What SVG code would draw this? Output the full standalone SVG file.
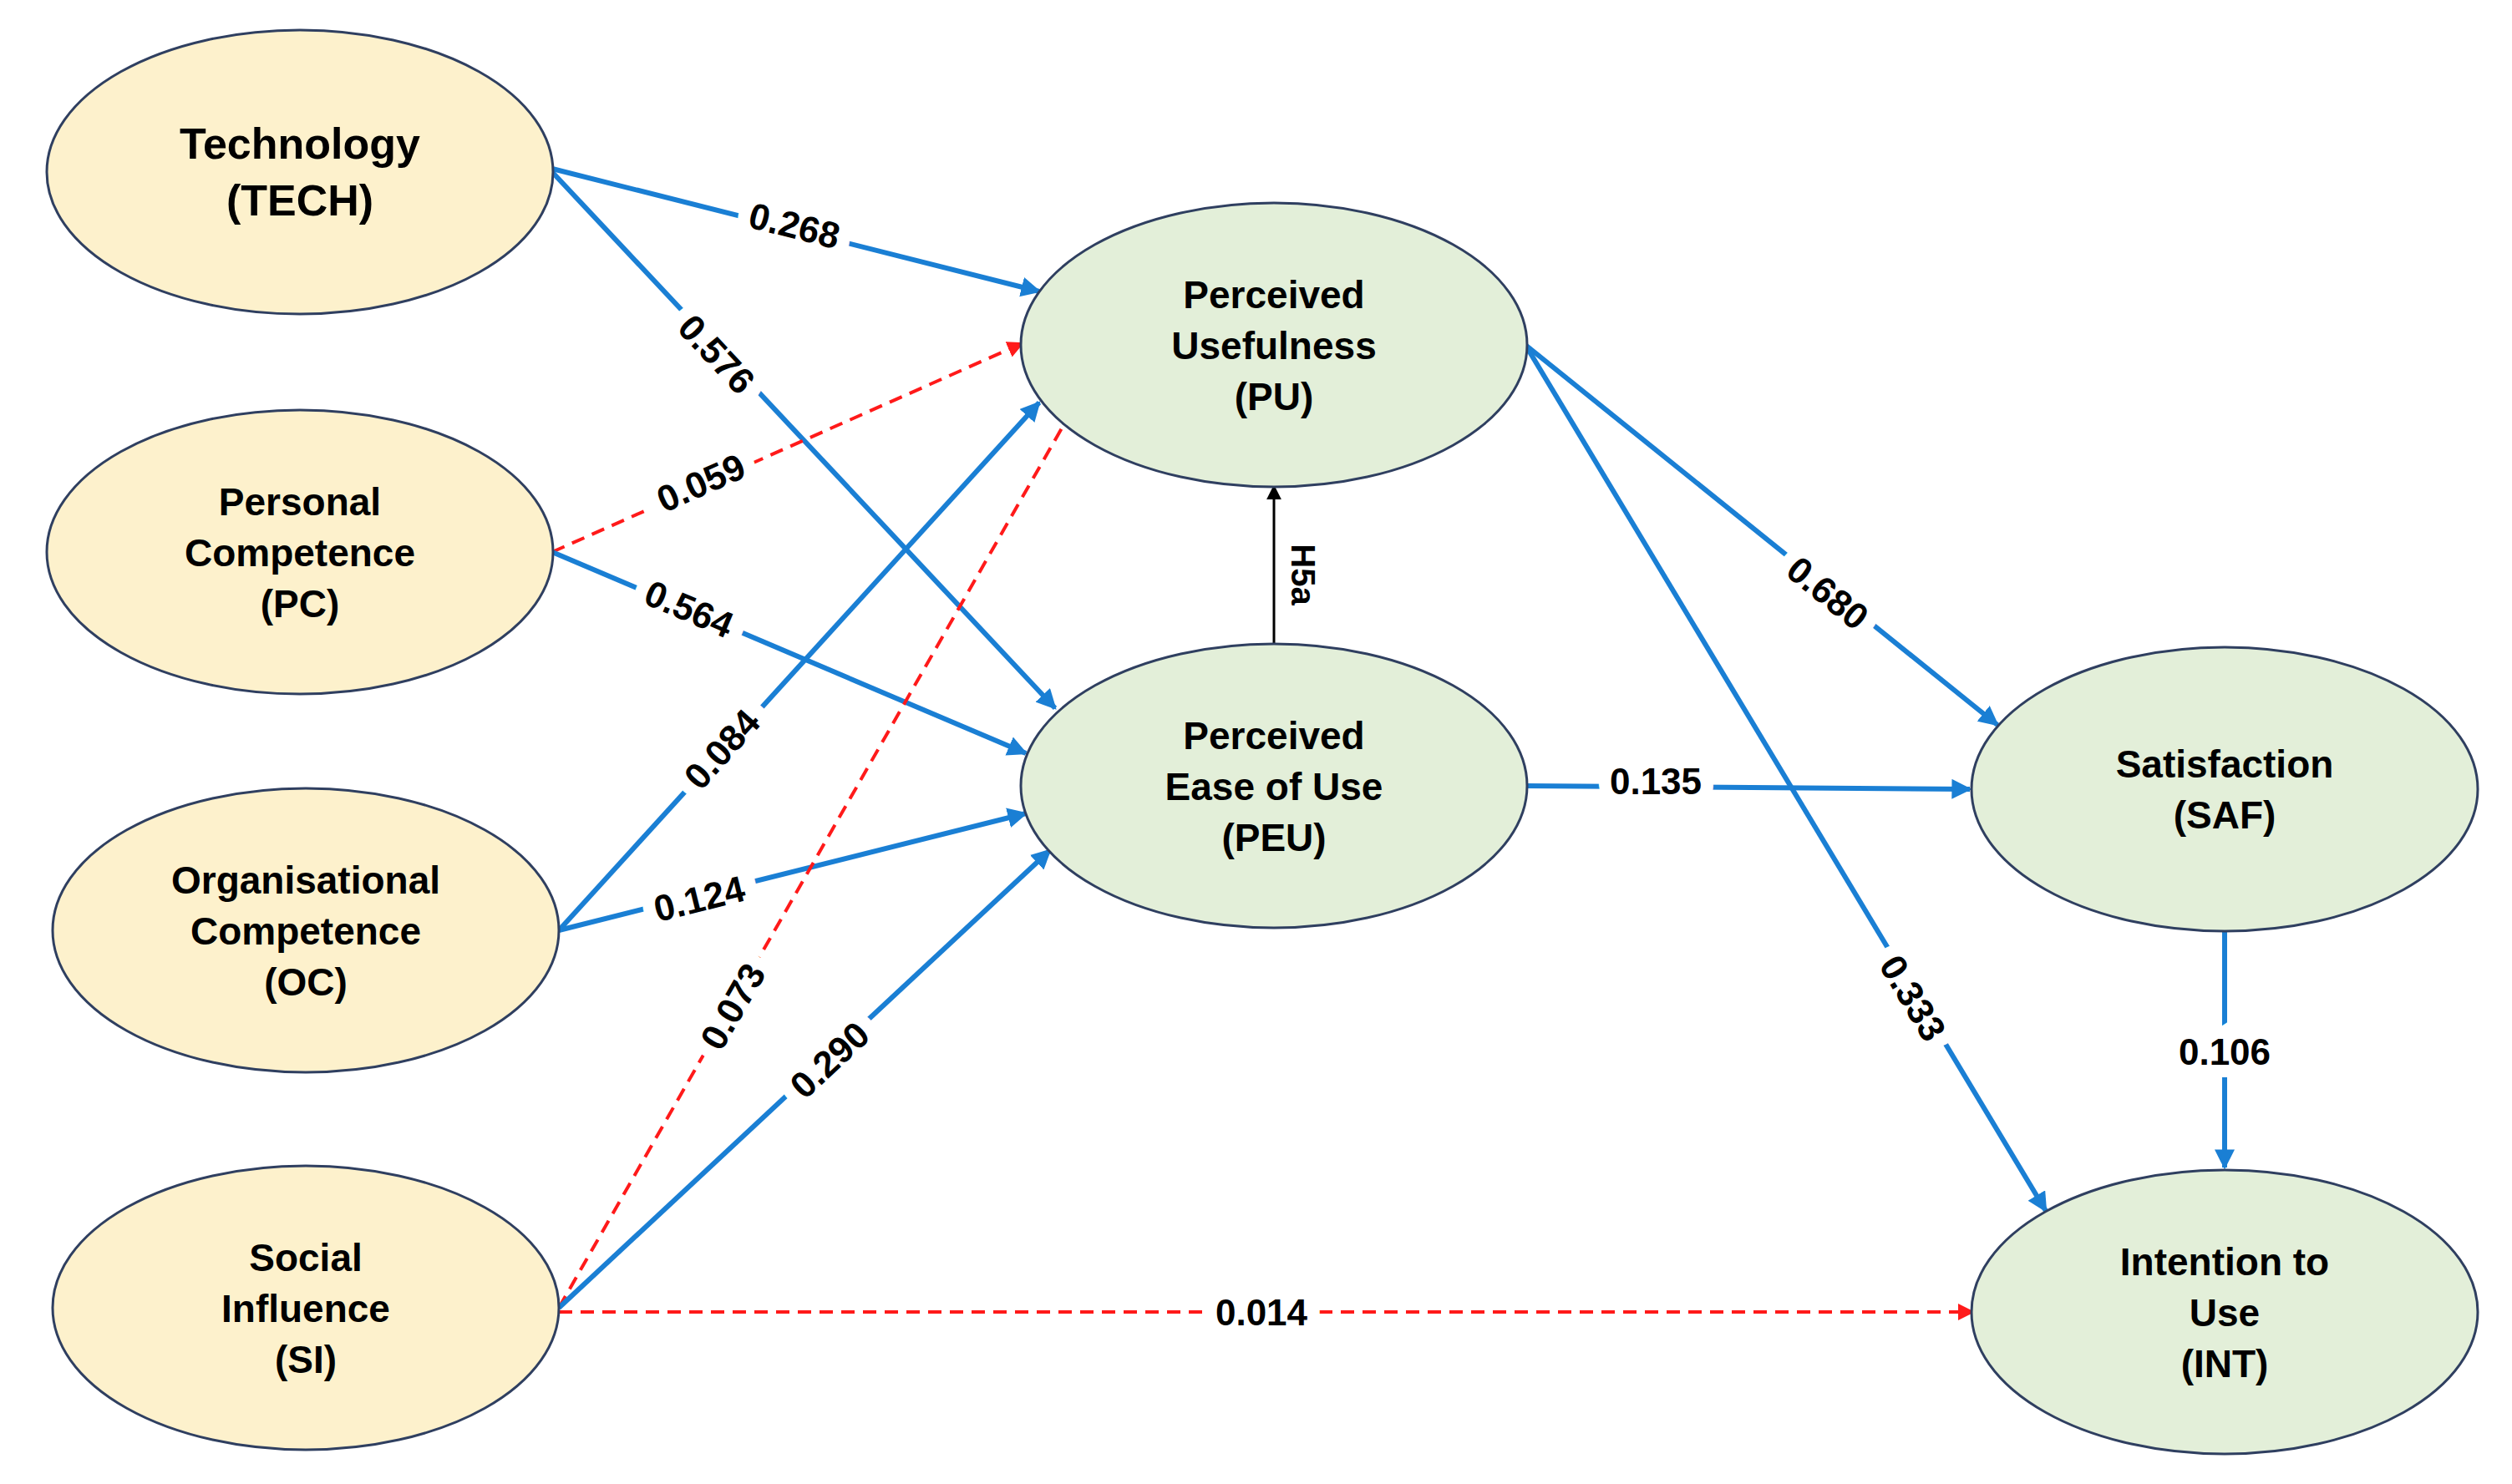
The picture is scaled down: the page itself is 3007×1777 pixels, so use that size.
<svg xmlns="http://www.w3.org/2000/svg" width="3007" height="1777" viewBox="0 0 3007 1777">
<style>
.y{fill:#fdf1cc;stroke:#2f3f60;stroke-width:3}
.g{fill:#e3efd9;stroke:#2f3f60;stroke-width:3}
.t{font-family:"Liberation Sans",Arial,sans-serif;font-weight:bold;font-size:46px;fill:#000;text-anchor:middle}
.b{stroke:#1a7fd4;stroke-width:6;fill:none;marker-end:url(#ab)}
.r{stroke:#ff1a1a;stroke-width:4;stroke-dasharray:16 10;fill:none;marker-end:url(#ar)}
.k{stroke:#000;stroke-width:3;fill:none;marker-end:url(#ak)}
.l{font-family:"Liberation Sans",Arial,sans-serif;font-weight:bold;font-size:44px;fill:#000;text-anchor:middle;dominant-baseline:central;stroke:#fff;stroke-width:30;paint-order:stroke}
</style>
<defs>
<marker id="ab" viewBox="0 0 10 10" refX="9" refY="5" markerWidth="4" markerHeight="4" orient="auto" markerUnits="strokeWidth"><path d="M0,0L10,5L0,10z" fill="#1a7fd4"/></marker>
<marker id="ar" viewBox="0 0 10 10" refX="9" refY="5" markerWidth="5" markerHeight="5" orient="auto" markerUnits="strokeWidth"><path d="M0,0L10,5L0,10z" fill="#ff1a1a"/></marker>
<marker id="ak" viewBox="0 0 10 10" refX="9" refY="5" markerWidth="6" markerHeight="6" orient="auto" markerUnits="strokeWidth"><path d="M0,0L10,5L0,10z" fill="#000"/></marker>
</defs>
<rect width="3007" height="1777" fill="#fff"/>
<g id="connectors">
<line class="b" x1="661" y1="202" x2="1244" y2="349"/>
<line class="b" x1="661" y1="206" x2="1263" y2="848"/>
<line class="r" x1="661" y1="661" x2="1224" y2="411"/>
<line class="b" x1="661" y1="661" x2="1228" y2="902"/>
<line class="b" x1="669" y1="1114" x2="1244" y2="482"/>
<line class="b" x1="669" y1="1114" x2="1228" y2="974"/>
<line class="r" x1="669" y1="1566" x2="1296" y2="469"/>
<line class="b" x1="669" y1="1566" x2="1257" y2="1018"/>
<line class="r" x1="669" y1="1571" x2="2362" y2="1571"/>
<line class="k" x1="1525" y1="771" x2="1525" y2="582"/>
<line class="b" x1="1826" y1="941" x2="2358" y2="945"/>
<line class="b" x1="1826" y1="413" x2="2391" y2="868"/>
<line class="b" x1="1826" y1="413" x2="2449" y2="1450"/>
<line class="b" x1="2663" y1="1114" x2="2663" y2="1398"/>
<text class="l" transform="translate(951,270) rotate(14)">0.268</text>
<text class="l" transform="translate(858,424) rotate(47)">0.576</text>
<text class="l" transform="translate(839,578) rotate(-24)">0.059</text>
<text class="l" transform="translate(825,729) rotate(23)">0.564</text>
<text class="l" transform="translate(864,897) rotate(-48)">0.084</text>
<text class="l" transform="translate(837,1076) rotate(-14)">0.124</text>
<text class="l" transform="translate(877,1205) rotate(-60)">0.073</text>
<text class="l" transform="translate(993,1269) rotate(-43)">0.290</text>
<text class="l" x="1510" y="1571">0.014</text>
<text class="l" transform="translate(1560,688) rotate(90)" style="font-size:40px">H5a</text>
<text class="l" x="1982" y="935">0.135</text>
<text class="l" transform="translate(2188,710) rotate(39)">0.680</text>
<text class="l" transform="translate(2290,1195) rotate(59)">0.333</text>
<text class="l" x="2663" y="1259">0.106</text>
</g>
<g id="TECH"><ellipse class="y" cx="359" cy="206" rx="303" ry="170"/><text class="t" x="359" y="190" style="font-size:52px">Technology</text><text class="t" x="359" y="258" style="font-size:52px">(TECH)</text></g>
<g id="PC"><ellipse class="y" cx="359" cy="661" rx="303" ry="170"/><text class="t" x="359" y="617">Personal</text><text class="t" x="359" y="678">Competence</text><text class="t" x="359" y="739">(PC)</text></g>
<g id="OC"><ellipse class="y" cx="366" cy="1114" rx="303" ry="170"/><text class="t" x="366" y="1070">Organisational</text><text class="t" x="366" y="1131">Competence</text><text class="t" x="366" y="1192">(OC)</text></g>
<g id="SI"><ellipse class="y" cx="366" cy="1566" rx="303" ry="170"/><text class="t" x="366" y="1522">Social</text><text class="t" x="366" y="1583">Influence</text><text class="t" x="366" y="1644">(SI)</text></g>
<g id="PU"><ellipse class="g" cx="1525" cy="413" rx="303" ry="170"/><text class="t" x="1525" y="369">Perceived</text><text class="t" x="1525" y="430">Usefulness</text><text class="t" x="1525" y="491">(PU)</text></g>
<g id="PEU"><ellipse class="g" cx="1525" cy="941" rx="303" ry="170"/><text class="t" x="1525" y="897">Perceived</text><text class="t" x="1525" y="958">Ease of Use</text><text class="t" x="1525" y="1019">(PEU)</text></g>
<g id="SAF"><ellipse class="g" cx="2663" cy="945" rx="303" ry="170"/><text class="t" x="2663" y="931">Satisfaction</text><text class="t" x="2663" y="992">(SAF)</text></g>
<g id="INT"><ellipse class="g" cx="2663" cy="1571" rx="303" ry="170"/><text class="t" x="2663" y="1527">Intention to</text><text class="t" x="2663" y="1588">Use</text><text class="t" x="2663" y="1649">(INT)</text></g>
</svg>
